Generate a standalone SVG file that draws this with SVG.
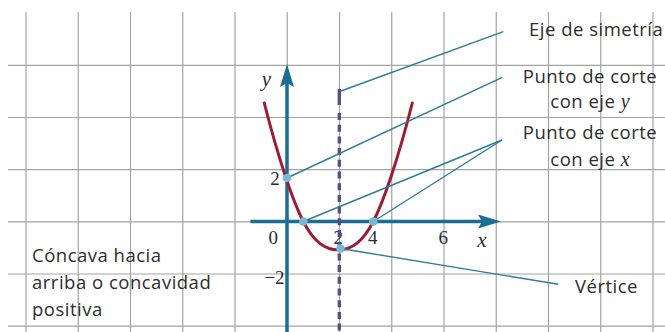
<svg xmlns="http://www.w3.org/2000/svg" width="665" height="332" viewBox="0 0 665 332">
<style>
.grid line{stroke:#a3a3a3;stroke-width:1.2}
.axis{stroke:#1c6d94;stroke-width:3.5;fill:none}
.curve{stroke:#9c1d33;stroke-width:3;fill:none;stroke-linejoin:round;stroke-linecap:round}
.sym{stroke:#5b4a82;stroke-width:3.3;fill:none}
.lead{stroke:#2e7c99;stroke-width:1.4;fill:none}
.dot{fill:#7ab6d6}
.lbl{font-family:"Open Sans","Noto Sans",sans-serif;font-size:18.5px;letter-spacing:0.5px;fill:#2d2d2d}
.num{font-family:"Liberation Serif",serif;font-size:19px;fill:#2d2d2d;text-anchor:middle}
.var{font-family:"Liberation Serif",serif;font-style:italic;font-size:21px;fill:#2d2d2d;text-anchor:middle}
.ivar{font-family:"Liberation Serif",serif;font-style:italic;letter-spacing:0}
</style>
<defs>
<marker id="arr" markerUnits="userSpaceOnUse" markerWidth="24" markerHeight="14" refX="11" refY="7" orient="auto">
<path d="M0,0 L23,7 L0,14 L4,7 Z" fill="#1c6d94"/>
</marker>
</defs>
<rect width="665" height="332" fill="#ffffff"/>
<g id="grid" class="grid">
<line x1="26" y1="12" x2="26" y2="332"/>
<line x1="78.25" y1="12" x2="78.25" y2="332"/>
<line x1="130.5" y1="12" x2="130.5" y2="332"/>
<line x1="182.75" y1="12" x2="182.75" y2="332"/>
<line x1="235" y1="12" x2="235" y2="332"/>
<line x1="287.25" y1="12" x2="287.25" y2="332"/>
<line x1="339.5" y1="12" x2="339.5" y2="332"/>
<line x1="391.75" y1="12" x2="391.75" y2="332"/>
<line x1="444" y1="12" x2="444" y2="332"/>
<line x1="496.25" y1="12" x2="496.25" y2="332"/>
<line x1="548.5" y1="12" x2="548.5" y2="332"/>
<line x1="600.75" y1="12" x2="600.75" y2="332"/>
<line x1="653" y1="12" x2="653" y2="332"/>
<line x1="8" y1="65.3" x2="665" y2="65.3"/>
<line x1="8" y1="117.5" x2="665" y2="117.5"/>
<line x1="8" y1="169.7" x2="665" y2="169.7"/>
<line x1="8" y1="221.9" x2="665" y2="221.9"/>
<line x1="8" y1="274" x2="665" y2="274"/>
<line x1="8" y1="326.2" x2="665" y2="326.2"/>
</g>
<g id="axes">
<line class="axis" x1="250.5" y1="221.5" x2="489" y2="221.5" marker-end="url(#arr)"/>
<line class="axis" x1="287" y1="332" x2="287" y2="76" marker-end="url(#arr)"/>
<text class="var" x="266.5" y="86">y</text>
<text class="var" x="482" y="247">x</text>
<text class="num" x="273.3" y="244.3">0</text>
<text class="num" x="275" y="185.3">2</text>
<text class="num" x="274.5" y="283.5">−2</text>
<text class="num" x="338.3" y="244.3">2</text>
<text class="num" x="372.7" y="244.3">4</text>
<text class="num" x="443.3" y="244.3">6</text>
</g>
<g id="symmetry-axis">
<line class="sym" x1="339.3" y1="89" x2="339.3" y2="105"/>
<line class="sym" x1="339.3" y1="113" x2="339.3" y2="332" stroke-dasharray="7 4.7"/>
</g>
<g id="parabola">
<path class="curve" d="M264.3,103 C271.53,131.8 278.77,156.3 286,178 C291.77,195.3 297.53,210.25 303.3,221.5 C314.97,244.25 326.63,250 338.3,250 C349.97,250 361.63,244.25 373.3,221.5 C379.07,210.25 384.83,195.3 390.6,178 C397.83,156.3 405.07,131.8 412.3,103"/>
</g>
<g id="connectors">
<line class="lead" x1="341" y1="91" x2="503.3" y2="31.7"/>
<line class="lead" x1="287" y1="178" x2="502.3" y2="77.3"/>
<line class="lead" x1="303.3" y1="221.5" x2="502" y2="140"/>
<line class="lead" x1="373.3" y1="221.5" x2="502" y2="140"/>
<line class="lead" x1="340.5" y1="248.5" x2="558.3" y2="284.3"/>
</g>
<g id="points">
<circle class="dot" cx="287" cy="178" r="4.3"/>
<circle class="dot" cx="303.3" cy="221.5" r="4.3"/>
<circle class="dot" cx="373.3" cy="221.5" r="4.3"/>
<circle class="dot" cx="340.5" cy="248.5" r="4.3"/>
</g>
<g id="label-eje-simetria">
<text class="lbl" x="529" y="35.7">Eje de simetría</text>
</g>
<g id="label-corte-y">
<text class="lbl" x="590" y="82.7" text-anchor="middle">Punto de corte</text>
<text class="lbl" x="590" y="108" text-anchor="middle">con eje <tspan class="ivar" font-size="20">y</tspan></text>
</g>
<g id="label-corte-x">
<text class="lbl" x="590" y="139.3" text-anchor="middle">Punto de corte</text>
<text class="lbl" x="590" y="165.5" text-anchor="middle">con eje <tspan class="ivar" font-size="20">x</tspan></text>
</g>
<g id="label-vertice">
<text class="lbl" x="575" y="292.7">Vértice</text>
</g>
<g id="label-concava">
<text class="lbl" x="32" y="262">Cóncava hacia</text>
<text class="lbl" x="32" y="289">arriba o concavidad</text>
<text class="lbl" x="32" y="315.5">positiva</text>
</g>
</svg>
